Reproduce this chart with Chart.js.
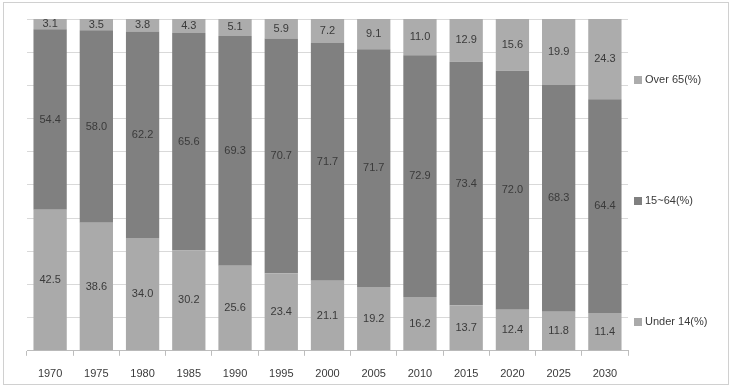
<!DOCTYPE html>
<html>
<head>
<meta charset="utf-8">
<script src="https://cdn.jsdelivr.net/npm/chart.js@4.4.0/dist/chart.umd.min.js"></script>
<style>
  html, body { margin: 0; padding: 0; background: #fff; }
  #wrap { position: relative; width: 737px; height: 387px; }
  #frame {
    position: absolute; left: 3px; top: 2px; width: 724px; height: 381px;
    border: 1px solid #d0d0d0; pointer-events: none;
  }
  canvas { display: block; }
</style>
</head>
<body>
<div id="wrap">
  <canvas id="popChart" width="737" height="387"></canvas>
  <div id="frame"></div>
</div>
<script>
// population structure by age group, share of total (%)
const years = ['1970', '1975', '1980', '1985', '1990', '1995', '2000',
  '2005', '2010', '2015', '2020', '2025', '2030'];
const under14 = [42.5, 38.6, 34.0, 30.2, 25.6, 23.4, 21.1, 19.2, 16.2, 13.7, 12.4, 11.8, 11.4];
const age15to64 = [54.4, 58.0, 62.2, 65.6, 69.3, 70.7, 71.7, 71.7, 72.9, 73.4, 72.0, 68.3, 64.4];
const over65 = [3.1, 3.5, 3.8, 4.3, 5.1, 5.9, 7.2, 9.1, 11.0, 12.9, 15.6, 19.9, 24.3];

const FONT = "'Liberation Sans', Arial, sans-serif";
const TEXT = '#3a3a3a';

// value label in the middle of every stacked segment
const segmentLabels = {
  id: 'segmentLabels',
  afterDatasetsDraw(chart) {
    const ctx = chart.ctx;
    ctx.save();
    ctx.font = `11px ${FONT}`;
    ctx.fillStyle = TEXT;
    ctx.textAlign = 'center';
    ctx.textBaseline = 'middle';
    chart.data.datasets.forEach((ds, i) => {
      chart.getDatasetMeta(i).data.forEach((bar, j) => {
        const {x, y, base} = bar.getProps(['x', 'y', 'base'], true);
        const top = Math.max(y, chart.chartArea.top);
        ctx.fillText(ds.data[j].toFixed(1), x, (top + base) / 2);
      });
    });
    ctx.restore();
  },
};

// Excel-style legend: spread down the right side, top series first
const sideLegend = {
  id: 'sideLegend',
  afterDraw(chart) {
    const ctx = chart.ctx;
    const area = chart.chartArea;
    const x = area.right + 6;
    const firstY = area.top + 61;
    const step = 121;
    ctx.save();
    ctx.font = `11px ${FONT}`;
    ctx.textBaseline = 'middle';
    const sets = chart.data.datasets.slice().reverse();
    sets.forEach((ds, k) => {
      const y = firstY + k * step;
      ctx.fillStyle = ds.backgroundColor;
      ctx.fillRect(x, y - 4, 8, 8);
      ctx.fillStyle = TEXT;
      ctx.fillText(ds.label, x + 11, y);
    });
    ctx.restore();
  },
};

new Chart(document.getElementById('popChart'), {
  type: 'bar',
  data: {
    labels: years,
    datasets: [
      {label: 'Under 14(%)', data: under14, backgroundColor: '#aaaaaa'},
      {label: '15~64(%)', data: age15to64, backgroundColor: '#808080'},
      {label: 'Over 65(%)', data: over65, backgroundColor: '#acacac'},
    ],
  },
  options: {
    responsive: false,
    devicePixelRatio: 1,
    animation: false,
    layout: {padding: {left: 27, top: 19, right: 109, bottom: -6}},
    datasets: {bar: {categoryPercentage: 1, barPercentage: 0.72}},
    plugins: {legend: {display: false}, tooltip: {enabled: false}},
    scales: {
      x: {
        stacked: true,
        grid: {
          offset: true,
          drawOnChartArea: false,
          tickLength: 5,
          color: '#bdbdbd',
        },
        border: {color: '#bdbdbd'},
        ticks: {color: TEXT, font: {family: FONT, size: 11}, padding: 12},
      },
      y: {
        stacked: true,
        min: 0,
        max: 100,
        ticks: {display: false, stepSize: 10},
        grid: {color: '#d9d9d9', drawTicks: false},
        border: {display: false},
      },
    },
  },
  plugins: [segmentLabels, sideLegend],
});
</script>
</body>
</html>
